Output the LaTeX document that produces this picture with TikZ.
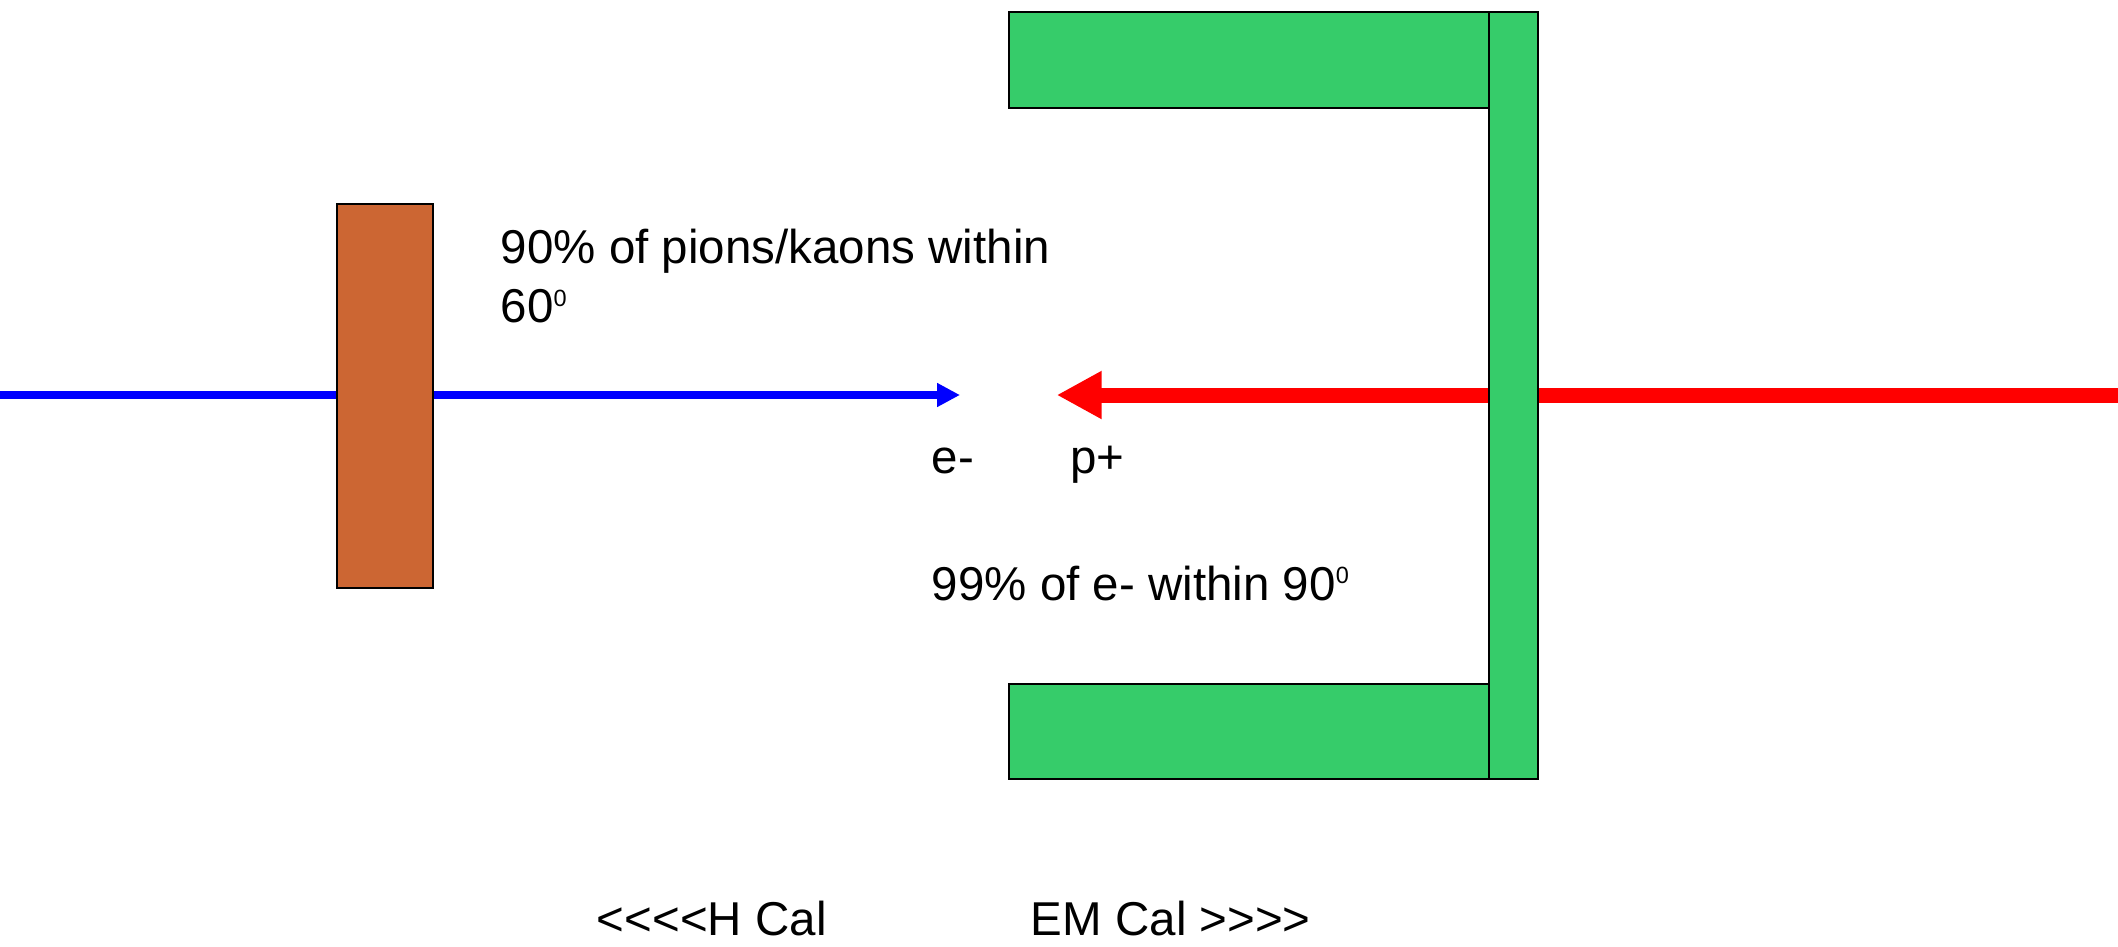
\documentclass[tikz,border=0pt]{standalone}
\usepackage{fontspec}
\setmainfont[Ligatures=TeXOff]{Liberation Sans}
\usetikzlibrary{arrows.meta}
\definecolor{hcalcol}{RGB}{204,102,51}
\definecolor{emcalcol}{RGB}{54,204,106}
\newcommand{\degsup}{\raisebox{16.6pt}{\fontsize{23.5}{23.5}\selectfont 0}}
\begin{document}
\begin{tikzpicture}[x=1pt,y=-1pt,
  block/.style={draw=black,line width=1.6pt,inner sep=0pt,anchor=north west},
  lbl/.style={anchor=base west,inner sep=0pt,font=\fontsize{47.5}{59.4}\selectfont}]
\useasboundingbox (0,0) rectangle (2118,946);
\coordinate (bstart) at (0,395);
\coordinate (btip) at (960,395);
\coordinate (rstart) at (2118,395);
\coordinate (rtip) at (1056.7,395);
\draw[blue, line width=7.7pt, -{Triangle[length=23pt,width=22.6pt]}] (bstart) -- (btip);
\draw[red, line width=15pt, -{Triangle[length=45pt,width=45pt]}] (rstart) -- (rtip);
\node[block, fill=hcalcol, minimum width=96pt, minimum height=384pt] (hcal) at (336,203) {};
\node[block, fill=emcalcol, minimum width=480pt, minimum height=96pt] (emtop) at (1008,11) {};
\node[block, fill=emcalcol, minimum width=480pt, minimum height=95pt] (embot) at (1008,683) {};
\node[block, fill=emcalcol, minimum width=49pt, minimum height=767pt] (emback) at (1488,11) {};
\node[lbl, align=left] (pik) at (500.7,322.7) {90\% of pions/kaons within\\60\degsup};
\node[lbl] (elab) at (931.7,473.3) {e-};
\node[lbl] (plab) at (1070,473.3) {p+};
\node[lbl] (elec) at (931.7,600) {99\% of e- within 90\degsup};
\node[lbl] (hcl) at (596.7,935) {<<<<H Cal};
\node[lbl] (emcl) at (1030.7,935) {EM Cal >>>>};
\end{tikzpicture}
\end{document}
